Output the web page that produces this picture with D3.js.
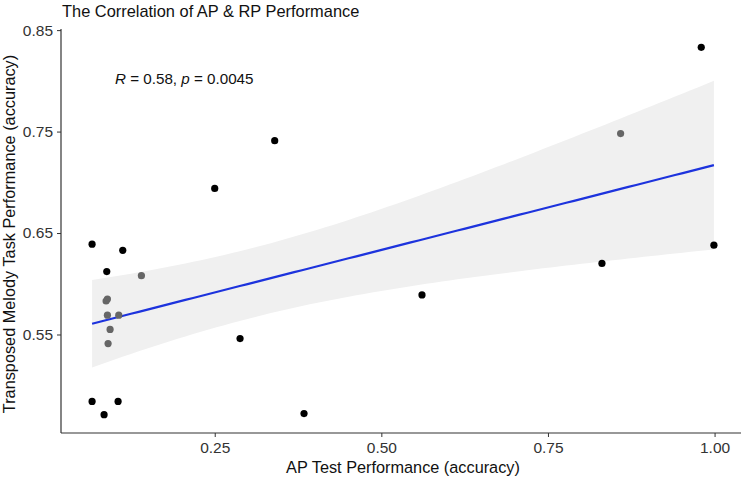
<!DOCTYPE html>
<html>
<head>
<meta charset="utf-8">
<script src="https://cdn.jsdelivr.net/npm/d3@7"></script>
<style>
  body { margin: 0; background: #fff; }
  svg { font-family: "Liberation Sans", Arial, sans-serif; }
</style>
</head>
<body>
<script>
// AP test accuracy (x) vs transposed melody accuracy (y), split by dot colour
const blackX = [0.066, 0.112, 0.088, 0.066, 0.105, 0.084, 0.250, 0.340, 0.288, 0.384, 0.561, 0.831, 0.980, 0.999];
const blackY = [0.639, 0.633, 0.612, 0.484, 0.484, 0.471, 0.694, 0.741, 0.546, 0.472, 0.589, 0.620, 0.833, 0.638];
const greyX = [0.859, 0.140, 0.089, 0.087, 0.089, 0.106, 0.093, 0.090];
const greyY = [0.748, 0.608, 0.585, 0.583, 0.569, 0.569, 0.555, 0.541];
const xTicks = [0.25, 0.50, 0.75, 1.00];
const yTicks = [0.55, 0.65, 0.75, 0.85];
const statLabel = { r: "0.58", p: "0.0045" };

const width = 750, height = 480;

const pts = blackX.map((x, i) => ({x, y: blackY[i], grp: "a"}))
  .concat(greyX.map((x, i) => ({x, y: greyY[i], grp: "b"})));

// ggplot-like 5% expansion
const pad = ([a, b]) => [a - (b - a) * 0.05, b + (b - a) * 0.05];
const xDom = pad(d3.extent(pts, d => d.x));
const yDom = pad(d3.extent(pts, d => d.y));

const x = d3.scaleLinear().domain(xDom).range([61, 745]);
const y = d3.scaleLinear().domain(yDom).range([433, 29]);

// linear fit + 95% confidence band
const n = pts.length;
const mx = d3.mean(pts, d => d.x), my = d3.mean(pts, d => d.y);
const sxx = d3.sum(pts, d => (d.x - mx) ** 2);
const slope = d3.sum(pts, d => (d.x - mx) * (d.y - my)) / sxx;
const icpt = my - slope * mx;
const sse = d3.sum(pts, d => (d.y - icpt - slope * d.x) ** 2);
const se = Math.sqrt(sse / (n - 2));
const tcrit = 2.086; // df = 20
const [x0, x1] = d3.extent(pts, d => d.x);
const band = d3.range(0, 81).map(i => {
  const xv = x0 + (x1 - x0) * i / 80;
  const fit = icpt + slope * xv;
  const h = tcrit * se * Math.sqrt(1 / n + (xv - mx) ** 2 / sxx);
  return {x: xv, fit, lo: fit - h, hi: fit + h};
});

const svg = d3.select("body").append("svg")
  .attr("width", width).attr("height", height);

svg.append("path")
  .datum(band)
  .attr("fill", "#f0f0f0")
  .attr("d", d3.area().x(d => x(d.x)).y0(d => y(d.lo)).y1(d => y(d.hi)));

svg.append("path")
  .datum(band)
  .attr("fill", "none")
  .attr("stroke", "#1d33dd")
  .attr("stroke-width", 2.2)
  .attr("d", d3.line().x(d => x(d.x)).y(d => y(d.fit)));

svg.append("g").selectAll("circle")
  .data(pts)
  .join("circle")
  .attr("cx", d => x(d.x))
  .attr("cy", d => y(d.y))
  .attr("r", 3.6)
  .attr("fill", d => d.grp === "a" ? "#000" : "#666");

// axes
const xAxis = svg.append("g")
  .attr("transform", `translate(0,${y.range()[0]})`)
  .call(d3.axisBottom(x).tickValues(xTicks).tickFormat(d3.format(".2f")).tickSizeOuter(0).tickSize(4).tickPadding(5));
const yAxis = svg.append("g")
  .attr("transform", `translate(${x.range()[0]},0)`)
  .call(d3.axisLeft(y).tickValues(yTicks).tickFormat(d3.format(".2f")).tickSizeOuter(0).tickSize(4).tickPadding(4));

[xAxis, yAxis].forEach(g => {
  g.select(".domain").attr("stroke", "#333").attr("stroke-width", 1.2);
  g.selectAll(".tick line").attr("stroke", "#333");
  g.selectAll(".tick text").attr("fill", "#333").style("font-size", "15.5px");
});
xAxis.select(".domain").attr("d", `M${x.range()[0]},0H${x.range()[1] - 4}`);
yAxis.select(".domain").attr("d", `M0,${y.range()[0]}V${y.range()[1]}`);

svg.append("text")
  .attr("x", 403).attr("y", 473)
  .attr("text-anchor", "middle")
  .style("font-size", "16.3px")
  .attr("fill", "#111")
  .text("AP Test Performance (accuracy)");

svg.append("text")
  .attr("transform", "translate(15,234) rotate(-90)")
  .attr("text-anchor", "middle")
  .style("font-size", "16.3px")
  .attr("fill", "#111")
  .text("Transposed Melody Task Performance (accuracy)");

svg.append("text")
  .attr("x", 62).attr("y", 17)
  .style("font-size", "16.4px")
  .attr("fill", "#111")
  .text("The Correlation of AP & RP Performance");

const stat = svg.append("text")
  .attr("x", 115).attr("y", 84)
  .style("font-size", "15.2px")
  .attr("fill", "#111");
stat.append("tspan").style("font-style", "italic").text("R");
stat.append("tspan").text(` = ${statLabel.r}, `);
stat.append("tspan").style("font-style", "italic").text("p");
stat.append("tspan").text(` = ${statLabel.p}`);
</script>
</body>
</html>
